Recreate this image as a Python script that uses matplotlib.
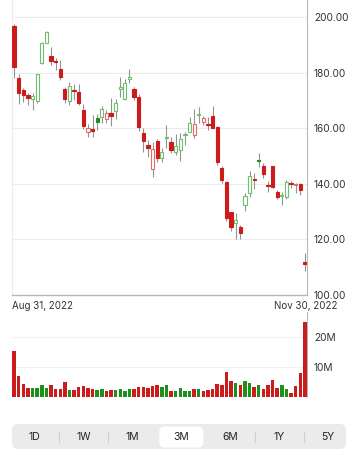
import matplotlib
matplotlib.use('Agg')
import matplotlib.pyplot as plt
from matplotlib.patches import FancyBboxPatch
import numpy as np

plt.rcParams['font.family'] = ['Inter', 'DejaVu Sans']

# Daily OHLC, Aug 31 2022 -> Nov 30 2022
opens = [196.9, 178.1, 173.9, 172.1, 170.5, 169.9, 183.5, 190.9, 186.1, 184.4,
         181.4, 174.1, 169.9, 173.8, 173.3, 166.7, 158.7, 159.7, 163.8, 164.0,
         163.3, 165.7, 166.2, 174.1, 170.5, 178.0, 174.1, 171.5, 158.3, 154.1,
         145.3, 155.6, 149.3, 156.6, 155.0, 151.6, 152.1, 157.7, 158.8, 157.7,
         164.8, 162.5, 161.4, 164.6, 160.7, 145.9, 140.8, 129.8, 125.8, 124.4,
         132.3, 136.7, 141.8, 148.6, 146.5, 139.5, 146.5, 137.1, 135.6, 135.4,
         140.1, 139.5, 140.0, 112.0]
highs = [197.5, 179.5, 174.7, 172.9, 172.7, 179.8, 191.3, 195.3, 189.5, 185.3,
         184.7, 174.8, 176.9, 175.9, 176.0, 168.8, 161.6, 165.0, 165.2, 168.0,
         166.7, 171.0, 170.5, 178.5, 177.7, 181.5, 175.1, 172.5, 160.2, 155.9,
         155.2, 156.3, 152.9, 161.3, 157.0, 157.9, 158.5, 158.9, 164.3, 167.0,
         167.9, 164.5, 164.3, 168.0, 161.0, 146.5, 141.2, 129.8, 129.7, 125.2,
         136.7, 144.7, 143.9, 151.1, 147.5, 141.2, 146.5, 137.8, 137.2, 141.4,
         141.0, 140.5, 140.5, 115.0]
lows = [178.2, 169.0, 169.4, 168.5, 166.7, 169.1, 183.3, 190.7, 182.9, 181.1,
        177.5, 169.1, 168.5, 170.3, 168.5, 159.7, 156.8, 157.0, 159.6, 162.0,
        161.9, 161.0, 163.5, 171.5, 170.3, 176.5, 170.3, 159.0, 151.6, 149.8,
        142.6, 148.0, 148.0, 152.9, 151.1, 150.5, 148.3, 154.1, 158.6, 156.5,
        161.9, 161.3, 159.5, 160.0, 147.0, 140.5, 126.5, 123.2, 120.1, 120.2,
        130.4, 135.2, 138.1, 146.0, 142.1, 137.2, 138.5, 134.5, 132.4, 134.5,
        138.5, 136.7, 136.0, 108.8]
closes = [182.3, 172.7, 172.1, 171.1, 171.7, 179.5, 190.9, 194.8, 184.3, 183.8,
          178.7, 170.7, 175.3, 173.4, 169.1, 160.9, 160.2, 159.2, 162.5, 167.1,
          165.5, 164.5, 169.1, 174.8, 176.3, 178.3, 171.5, 160.7, 155.6, 152.9,
          152.5, 149.3, 151.4, 156.9, 152.3, 153.7, 156.1, 158.0, 161.9, 161.5,
          165.0, 163.7, 161.2, 160.3, 147.8, 141.4, 127.6, 124.6, 127.0, 122.2,
          135.7, 143.0, 141.5, 148.2, 143.6, 139.2, 139.0, 135.4, 135.8, 140.7,
          139.9, 139.7, 137.8, 111.1]
prev_close = 199.0

# volume in millions
volumes = [15.5, 6.9, 4.3, 2.9, 3.0, 3.0, 4.0, 2.9, 3.8, 2.7,
           2.7, 4.8, 2.2, 2.1, 3.3, 3.5, 2.9, 2.7, 2.1, 2.4,
           2.0, 2.2, 2.2, 2.5, 1.9, 2.5, 2.4, 3.3, 3.3, 3.0,
           3.5, 4.0, 3.2, 3.75, 2.0, 2.0, 2.8, 2.0, 2.0, 2.4,
           2.4, 1.8, 2.3, 2.5, 4.4, 4.0, 8.2, 5.3, 4.5, 3.75,
           5.2, 4.7, 3.1, 4.0, 2.4, 4.0, 5.5, 3.0, 3.75, 2.6,
           1.1, 3.4, 8.1, 25.3]

price_ticks = [100, 120, 140, 160, 180, 200]
volume_ticks = [10, 20]
first_label = 'Aug 31, 2022'
last_label = 'Nov 30, 2022'
periods = ['1D', '1W', '1M', '3M', '6M', '1Y', '5Y']
selected = '3M'

RED = '#cc1b1b'
GREEN = '#1d8f1d'
RED_LIGHT = '#e46a6a'
GREEN_LIGHT = '#6cc06c'
WICK = '#939393'

W, H = 358, 450
fig = plt.figure(figsize=(W / 100, H / 100), dpi=100)


def box(l, t, r, b):
    return [l / W, 1 - b / H, (r - l) / W, (b - t) / H]


# fond pour la barre de periodes (coordonnees en pixels)
bg = fig.add_axes([0, 0, 1, 1])
bg.set_xlim(0, W)
bg.set_ylim(H, 0)
bg.axis('off')

ax = fig.add_axes(box(12, 0, 307, 295))
axv = fig.add_axes(box(12, 312, 307, 396.5))

o = np.array(opens)
c = np.array(closes)
hi = np.array(highs)
lo = np.array(lows)
x = np.arange(len(c))
prev = np.concatenate([[prev_close], c[:-1]])
up = c >= prev
hollow = c > o

# wicks
ax.vlines(x, lo, hi, color=WICK, lw=0.8, zorder=2)

bottoms = np.minimum(o, c)
heights = np.maximum(np.abs(c - o), 0.45)
face = np.where(hollow, 'white', np.where(up, GREEN, RED))
edge = np.where(hollow, np.where(up, GREEN_LIGHT, RED_LIGHT), np.where(up, GREEN, RED))
ax.bar(x, heights, bottom=bottoms, width=0.7, color=face, edgecolor=edge,
       linewidth=0.8, zorder=3)

ax.set_xlim(-0.45, len(c) - 0.55)
ax.set_ylim(100, 206.3)
ax.set_yticks(price_ticks)
ax.set_yticklabels(['%.2f' % t for t in price_ticks])
ax.yaxis.tick_right()
ax.tick_params(axis='y', length=0, pad=5, labelsize=7.3, labelcolor='#333333')
ax.set_xticks([])
ax.grid(axis='y', color='#ececec', lw=0.8)
ax.set_axisbelow(True)
ax.spines['top'].set_visible(False)
ax.spines['left'].set_color('#ececec')
ax.spines['right'].set_color('#b8b8b8')
ax.spines['bottom'].set_color('#b8b8b8')
ax.spines['bottom'].set_linewidth(1.0)

# volume
vcol = np.where(up, GREEN, RED)
axv.bar(x, volumes, width=0.75, color=vcol, edgecolor='none', zorder=3)
axv.set_xlim(ax.get_xlim())
axv.set_ylim(0, 28.6)
axv.set_yticks(volume_ticks)
axv.set_yticklabels(['%dM' % t for t in volume_ticks])
axv.yaxis.tick_right()
axv.tick_params(axis='y', length=0, pad=5, labelsize=7.3, labelcolor='#333333')
axv.set_xticks([])
axv.grid(axis='y', color='#f0f0f0', lw=0.8)
axv.set_axisbelow(True)
axv.spines['top'].set_visible(False)
axv.spines['bottom'].set_visible(False)
axv.spines['left'].set_visible(False)
axv.spines['right'].set_color('#b8b8b8')

# labels
bg.text(13, 5, 'Daily', fontsize=5.5, color='#444444', va='center', ha='left')
bg.text(13, 319, 'Volume', fontsize=5.5, color='#444444', va='center', ha='left')
bg.text(12, 306, first_label, fontsize=7, color='#333333', va='center', ha='left')
bg.text(338, 306, last_label, fontsize=7, color='#333333', va='center', ha='right')

# barre de periodes
bg.add_patch(FancyBboxPatch((12, 424), 334, 25,
                            boxstyle='round,pad=0,rounding_size=6',
                            fc='#ebebeb', ec='none'))
centers = [34.3 + 49 * i for i in range(len(periods))]
sel = periods.index(selected)
bg.add_patch(FancyBboxPatch((centers[sel] - 22, 426.5), 44, 21,
                            boxstyle='round,pad=0,rounding_size=5',
                            fc='white', ec='none'))
for i, p in enumerate(periods):
    bg.text(centers[i], 437, p, fontsize=7.5, color='#222222',
            ha='center', va='center')
    if i < len(periods) - 1 and i != sel and i + 1 != sel:
        sx = (centers[i] + centers[i + 1]) / 2
        bg.plot([sx, sx], [432, 442], color='#cfcfcf', lw=0.8)

fig.savefig('out.png', dpi=100)
